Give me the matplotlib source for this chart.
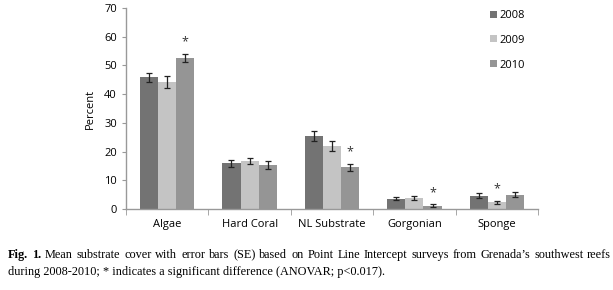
import matplotlib
matplotlib.use("Agg")
import matplotlib.pyplot as plt
import numpy as np

categories = ["Algae", "Hard Coral", "NL Substrate", "Gorgonian", "Sponge"]
years = ["2008", "2009", "2010"]
mean_2008 = [45.8, 15.9, 25.3, 3.6, 4.6]
mean_2009 = [44.2, 16.6, 22.0, 4.0, 2.3]
mean_2010 = [52.6, 15.4, 14.5, 1.2, 5.0]
se_2008 = [1.7, 1.3, 1.7, 0.5, 0.9]
se_2009 = [2.0, 1.0, 1.7, 0.7, 0.5]
se_2010 = [1.5, 1.3, 1.3, 0.4, 0.9]
# significance markers: (category index, year index)
significant = [(0, 2), (2, 2), (3, 2), (4, 1)]

caption_bold = "Fig. 1."
caption_line1 = "Mean substrate cover with error bars (SE) based on Point Line Intercept surveys from Grenada\u2019s southwest reefs"
caption_line2 = "during 2008-2010; * indicates a significant difference (ANOVAR; p<0.017)."

means = [mean_2008, mean_2009, mean_2010]
ses = [se_2008, se_2009, se_2010]
colors = ["#737373", "#c4c4c4", "#959595"]

fig = plt.figure(figsize=(6.13, 2.90), dpi=100)
ax = fig.add_axes([0.2055, 0.2793, 0.8777 - 0.2055, 0.9724 - 0.2793])

x = np.arange(len(categories))
w = 0.22
for i, (m, s, c) in enumerate(zip(means, ses, colors)):
    pos = x + (i - 1) * w
    ax.bar(pos, m, width=w, color=c, edgecolor="none", label=years[i], zorder=2)
    ax.errorbar(pos, m, yerr=s, fmt="none", ecolor="#222222", elinewidth=0.9,
                capsize=2.5, capthick=0.9, zorder=3)

for ci, yi in significant:
    top = means[yi][ci] + ses[yi][ci]
    ax.annotate("*", xy=(x[ci] + (yi - 1) * w, top), xytext=(0, 4),
                textcoords="offset points", ha="center", va="bottom",
                fontsize=9, color="#333333", family="Open Sans")

ax.set_xlim(-0.5, len(categories) - 0.5)
ax.set_ylim(0, 70)
ax.set_yticks(np.arange(0, 71, 10))
ax.set_xticks(x)
ax.set_xticklabels(categories, family="Open Sans", fontsize=8)
ax.set_xticks(np.arange(-0.5, len(categories)), minor=True)
ax.tick_params(axis="x", which="major", length=0, pad=7)
ax.tick_params(axis="x", which="minor", length=4, color="#999999", direction="out")
ax.tick_params(axis="y", length=3, color="#999999", labelsize=8)
for lab in ax.get_yticklabels():
    lab.set_family("Open Sans")
ax.set_ylabel("Percent", family="Open Sans", fontsize=8, labelpad=6)
for side in ["top", "right"]:
    ax.spines[side].set_visible(False)
for side in ["left", "bottom"]:
    ax.spines[side].set_color("#999999")
    ax.spines[side].set_linewidth(1.0)

leg = ax.legend(loc="upper left", bbox_to_anchor=(0.86, 1.04), frameon=False,
                prop={"family": "Open Sans", "size": 8}, handlelength=0.6,
                handleheight=0.6, handletextpad=0.2, labelspacing=1.25)

# caption: first line justified between left and right margins
fs = 8.8
W = fig.bbox.width
left_px, right_px = 8.0, 611.0
y1, y2 = 0.110, 0.052
words = [(wd, "bold") for wd in caption_bold.split()] + \
        [(wd, "normal") for wd in caption_line1.split()]
fig.canvas.draw()
renderer = fig.canvas.get_renderer()
objs = []
widths = []
for wd, wt in words:
    t = fig.text(0, y1, wd, fontsize=fs, family="Liberation Serif", weight=wt,
                 va="baseline", ha="left")
    objs.append(t)
    widths.append(t.get_window_extent(renderer).width)
gap = (right_px - left_px - sum(widths)) / (len(words) - 1)
cur = left_px
for t, wdt in zip(objs, widths):
    t.set_x(cur / W)
    cur += wdt + gap
fig.text(left_px / W, y2, caption_line2, fontsize=fs, family="Liberation Serif",
         va="baseline", ha="left")

fig.savefig("out.png", dpi=100)
